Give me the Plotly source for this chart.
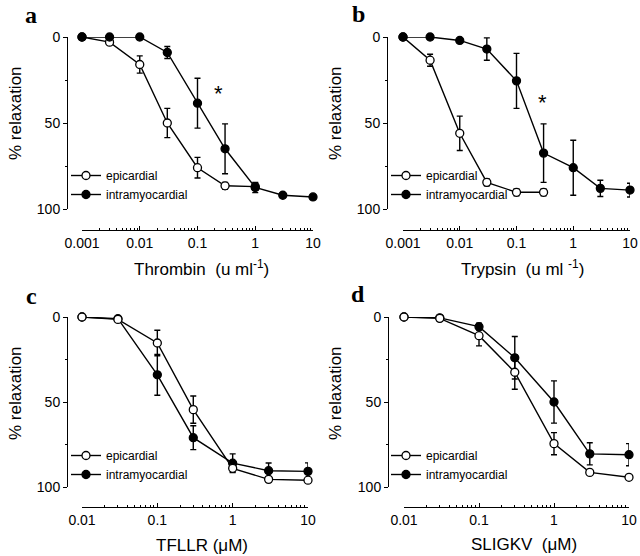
import plotly.graph_objects as go

# ---------------- data ----------------
thr_x = [0.001, 0.003, 0.01, 0.03, 0.1, 0.3, 1, 3, 10]
thr_epi_x = [0.001, 0.003, 0.01, 0.03, 0.1, 0.3, 1]
thr_epi = [0, 3, 16, 50, 76, 86.5, 87]
thr_epi_err = [0, 0, 5, 8.5, 6, 2, 2]
thr_int = [0, 0, 0, 9, 38.5, 65, 87.5, 92, 93]
thr_int_err = [0, 0, 0, 3.5, 14.5, 14.5, 3, 0, 0]

try_x = [0.001, 0.003, 0.01, 0.03, 0.1, 0.3, 1, 3, 10]
try_epi_x = [0.001, 0.003, 0.01, 0.03, 0.1, 0.3]
try_epi = [0, 13.5, 56, 84.5, 90.3, 90.3]
try_epi_err = [0, 3.5, 10, 2, 2, 2]
try_int = [0, 0, 2, 7, 25.5, 67.5, 76, 88, 89]
try_int_err = [0, 0, 0, 6.5, 16, 17, 16, 4.7, 4]

pep_x = [0.01, 0.03, 0.1, 0.3, 1, 3, 10]
tfl_epi = [0, 1.4, 15.3, 54.5, 89, 95.5, 96]
tfl_epi_err = [0, 0, 7.5, 8, 2, 0, 0]
tfl_int = [0, 1, 34, 71, 86, 90.4, 90.8]
tfl_int_err = [0, 0, 12, 7, 5.5, 4.5, 5]

sli_epi = [0, 0.8, 11, 32.5, 74.5, 91.4, 94.3]
sli_epi_err = [0, 0, 6, 10, 6.5, 0, 0]
sli_int = [0, 0.5, 5.7, 24, 50, 80.5, 81]
sli_int_err = [0, 0, 2, 12.5, 12.4, 6.5, 6.5]

thr_ticks = [0.001, 0.01, 0.1, 1, 10]
thr_ticktext = ["0.001", "0.01", "0.1", "1", "10"]
pep_ticks = [0.01, 0.1, 1, 10]
pep_ticktext = ["0.01", "0.1", "1", "10"]
y_ticks = [0, 50, 100]

# ---------------- layout helpers ----------------
W, H = 640, 556
def px(x):
    return x / W
def py(y):
    return 1 - y / H

FONT = "Liberation Sans, Arial, sans-serif"

fig = go.Figure()

def minor_vals(lo, hi):
    vals = []
    d = lo
    while d < hi:
        for k in range(2, 10):
            vals.append(k * 10 ** d)
        d += 1
    return vals

def add_series(x, y, err, filled, xa, ya, leg, name):
    fig.add_trace(go.Scatter(
        x=x, y=y, mode="lines+markers", name=name,
        xaxis=xa, yaxis=ya, legend=leg,
        legendrank=2 if filled else 1,
        line=dict(color="black", width=1.4),
        marker=dict(size=8, symbol="circle",
                    color="black" if filled else "white",
                    line=dict(color="black", width=1.3)),
        error_y=dict(type="data", array=err, color="black", thickness=1.4, width=3),
        cliponaxis=False,
    ))

# panel a
add_series(thr_epi_x, thr_epi, thr_epi_err, False, "x", "y", "legend", "epicardial")
add_series(thr_x, thr_int, thr_int_err, True, "x", "y", "legend", "intramyocardial")
# panel b
add_series(try_epi_x, try_epi, try_epi_err, False, "x2", "y2", "legend2", "epicardial")
add_series(try_x, try_int, try_int_err, True, "x2", "y2", "legend2", "intramyocardial")
# panel c
add_series(pep_x, tfl_int, tfl_int_err, True, "x3", "y3", "legend3", "intramyocardial")
add_series(pep_x, tfl_epi, tfl_epi_err, False, "x3", "y3", "legend3", "epicardial")
# panel d
add_series(pep_x, sli_int, sli_int_err, True, "x4", "y4", "legend4", "intramyocardial")
add_series(pep_x, sli_epi, sli_epi_err, False, "x4", "y4", "legend4", "epicardial")

panels = [
    ("", (82, 313), (37, 209), 230, 67, (-3, 1), thr_ticks, thr_ticktext),
    ("2", (403, 630), (37, 209), 230, 387, (-3, 1), thr_ticks, thr_ticktext),
    ("3", (82, 308), (317, 487), 507, 67, (-2, 1), pep_ticks, pep_ticktext),
    ("4", (404, 629), (317, 487), 507, 388, (-2, 1), pep_ticks, pep_ticktext),
]

tickfont = dict(family=FONT, size=14, color="black")
for suf, (x0, x1), (yt, yb), xpos, ypos, rng, tv, tt in panels:
    fig.layout["xaxis" + suf] = dict(
        type="log", domain=[px(x0), px(x1)], range=list(rng),
        anchor="free", position=py(xpos), automargin=False,
        showline=True, linecolor="black", linewidth=1,
        showgrid=False, zeroline=False,
        tickvals=tv, ticktext=tt, ticks="inside", ticklen=4, tickwidth=1,
        tickcolor="black", tickfont=tickfont,
        minor=dict(tickvals=minor_vals(rng[0], rng[1]), ticks="inside",
                   ticklen=2, tickcolor="black", tickwidth=1, showgrid=False),
    )
    fig.layout["yaxis" + suf] = dict(
        domain=[py(yb), py(yt)], range=[100, 0],
        anchor="free", position=px(ypos), automargin=False,
        showline=True, linecolor="black", linewidth=1,
        showgrid=False, zeroline=False,
        tickvals=y_ticks, ticks="outside", ticklen=4, tickwidth=1,
        tickcolor="black", tickfont=tickfont,
        minor=dict(tickvals=[25, 75], ticks="outside", ticklen=2,
                   tickcolor="black", tickwidth=1, showgrid=False),
    )

leg_common = dict(bgcolor="rgba(0,0,0,0)", font=dict(family=FONT, size=12, color="black"),
                  xanchor="left", yanchor="top", tracegroupgap=0, itemwidth=30)
fig.update_layout(
    legend=dict(x=px(66), y=py(161), **leg_common),
    legend2=dict(x=px(386), y=py(161), **leg_common),
    legend3=dict(x=px(66), y=py(441), **leg_common),
    legend4=dict(x=px(386), y=py(441), **leg_common),
)

annotations = []
title_font = dict(family=FONT, size=17, color="black")
for (x, y, txt) in [(201, 268, "Thrombin  (u ml<sup>-1</sup>)"),
                    (522, 268, "Trypsin  (u ml <sup>-1</sup>)"),
                    (202, 545, "TFLLR (μM)"),
                    (524, 544, "SLIGKV  (μM)")]:
    annotations.append(dict(x=px(x), y=py(y), xref="paper", yref="paper", text=txt,
                            showarrow=False, font=title_font,
                            xanchor="center", yanchor="middle"))
for (x, y) in [(15, 113), (335, 113), (15, 393), (335, 393)]:
    annotations.append(dict(x=px(x), y=py(y), xref="paper", yref="paper",
                            text="% relaxation", textangle=-90, showarrow=False,
                            font=title_font, xanchor="center", yanchor="middle"))
for (x, y, t) in [(31, 15, "a"), (358, 14, "b"), (31, 296, "c"), (358, 294, "d")]:
    annotations.append(dict(x=px(x), y=py(y), xref="paper", yref="paper",
                            text="<b>" + t + "</b>", showarrow=False,
                            font=dict(family="Liberation Serif, Times New Roman, serif",
                                      size=24, color="black"),
                            xanchor="center", yanchor="middle"))
# significance asterisks (data coords)
annotations.append(dict(x=-0.63, y=33, xref="x", yref="y", text="*", showarrow=False,
                        font=dict(family=FONT, size=22, color="black")))
annotations.append(dict(x=-0.55, y=38, xref="x2", yref="y2", text="*", showarrow=False,
                        font=dict(family=FONT, size=22, color="black")))

fig.update_layout(
    width=W, height=H,
    margin=dict(l=0, r=0, t=0, b=0, autoexpand=False),
    paper_bgcolor="white", plot_bgcolor="white",
    annotations=annotations,
    showlegend=True,
)

fig.write_html(
    "out.html",
    config={"displayModeBar": False},
    post_script="document.body.style.margin='0';document.body.style.overflow='hidden';",
)
